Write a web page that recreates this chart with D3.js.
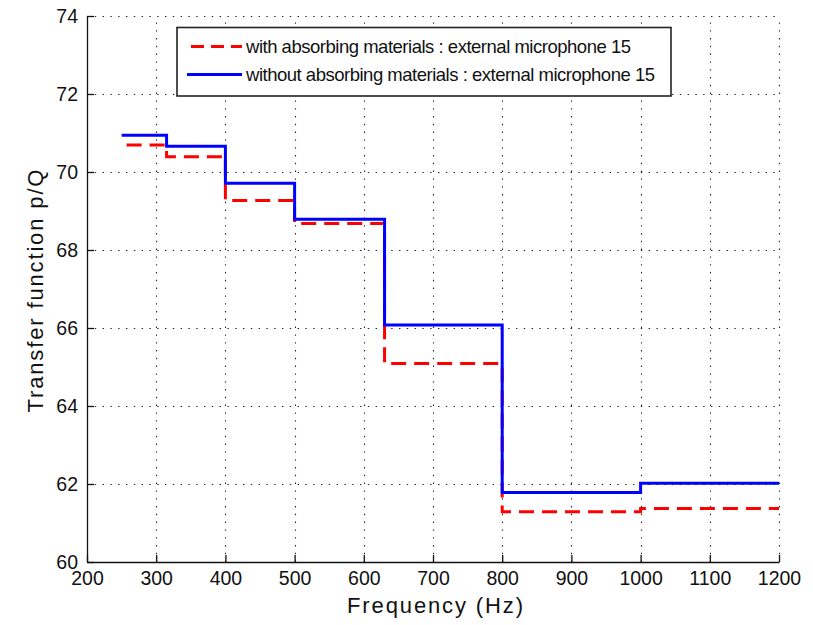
<!DOCTYPE html>
<html>
<head>
<meta charset="UTF-8">
<style>
  * { margin: 0; padding: 0; box-sizing: border-box; }
  html, body { width: 813px; height: 625px; background: #fff; overflow: hidden; }
  svg { display: block; font-family: "Liberation Sans", Arial, sans-serif; }
</style>
<script src="https://d3js.org/d3.v7.min.js"></script>
</head>
<body>
<div id="chart"></div>
<script>
// band edges (Hz) - the last value is repeated so the final step reaches 1200
var freqs = [250, 315, 400, 500, 630, 800, 1000, 1200];
var withAbsorbing = [70.69, 70.39, 69.27, 68.68, 65.09, 61.29, 61.37, 61.37];
var withoutAbsorbing = [70.94, 70.66, 69.71, 68.79, 66.08, 61.78, 62.02, 62.02];
var xTicks = [200, 300, 400, 500, 600, 700, 800, 900, 1000, 1100, 1200];
var yTicks = [60, 62, 64, 66, 68, 70, 72, 74];
var seriesNames = [
  "with absorbing materials : external microphone 15",
  "without absorbing materials : external microphone 15"
];

var W = 813, H = 625;
var x = d3.scaleLinear().domain([200, 1200]).range([87, 779]);
var y = d3.scaleLinear().domain([60, 74]).range([562, 16]);

var svg = d3.select("#chart").append("svg")
  .attr("width", W).attr("height", H);

// dotted grid
var grid = svg.append("g")
  .attr("stroke", "#222").attr("stroke-width", 1.1)
  .attr("stroke-dasharray", "1.4 6.4");
grid.selectAll(".gx").data(xTicks.slice(1)).enter().append("line")
  .attr("x1", function(d) { return Math.round(x(d)) + 0.5; })
  .attr("x2", function(d) { return Math.round(x(d)) + 0.5; })
  .attr("y1", y(60)).attr("y2", y(74));
grid.selectAll(".gy").data(yTicks.slice(1)).enter().append("line")
  .attr("y1", function(d) { return Math.round(y(d)) + 0.5; })
  .attr("y2", function(d) { return Math.round(y(d)) + 0.5; })
  .attr("x1", x(200)).attr("x2", x(1200));

// axes, ticks pointing inward
var xAxis = d3.axisBottom(x).tickValues(xTicks).tickFormat(d3.format("d"))
  .tickSizeInner(-7).tickSizeOuter(0).tickPadding(9);
var yAxis = d3.axisLeft(y).tickValues(yTicks).tickFormat(d3.format("d"))
  .tickSizeInner(-7).tickSizeOuter(0).tickPadding(9);

var gx = svg.append("g").attr("transform", "translate(0," + y(60) + ")").call(xAxis);
var gy = svg.append("g").attr("transform", "translate(" + x(200) + ",0)").call(yAxis);

[gx, gy].forEach(function(g) {
  g.selectAll("path, line").attr("stroke", "#111").attr("stroke-width", 1.3);
  g.selectAll("text")
    .attr("fill", "#111")
    .style("font-size", "19.5px")
    .style("font-family", "'Liberation Sans', Arial, sans-serif");
});

// step lines
var line = d3.line()
  .x(function(d) { return x(d[0]); })
  .y(function(d) { return y(d[1]); })
  .curve(d3.curveStepAfter);

function pairs(vals) {
  return freqs.map(function(f, i) { return [f, vals[i]]; });
}

svg.append("path")
  .attr("d", line(pairs(withAbsorbing)))
  .attr("fill", "none").attr("stroke", "#ff0000").attr("stroke-width", 3)
  .attr("stroke-dasharray", "15 8").attr("stroke-dashoffset", 18);

svg.append("path")
  .attr("d", line(pairs(withoutAbsorbing)))
  .attr("fill", "none").attr("stroke", "#0000ff").attr("stroke-width", 3);

// axis labels
svg.append("text")
  .attr("x", 435).attr("y", 613)
  .attr("text-anchor", "middle")
  .attr("textLength", 176)
  .attr("fill", "#111")
  .style("font-size", "22px")
  .text("Frequency (Hz)");

svg.append("text")
  .attr("transform", "translate(43,291) rotate(-90)")
  .attr("text-anchor", "middle")
  .attr("textLength", 243)
  .attr("fill", "#111")
  .style("font-size", "22px")
  .text("Transfer function p/Q");

// legend
var leg = svg.append("g");
leg.append("rect")
  .attr("x", 177).attr("y", 27.5).attr("width", 494).attr("height", 68.5)
  .attr("fill", "#fff").attr("stroke", "#222").attr("stroke-width", 1.6);

var legRows = [
  { name: seriesNames[0], color: "#ff0000", dash: "13 7", y: 46.5, x1: 191, len: 385 },
  { name: seriesNames[1], color: "#0000ff", dash: null, y: 74.5, x1: 187, len: 409 }
];
legRows.forEach(function(r) {
  leg.append("line")
    .attr("x1", r.x1).attr("x2", 242).attr("y1", r.y).attr("y2", r.y)
    .attr("stroke", r.color).attr("stroke-width", 3)
    .attr("stroke-dasharray", r.dash);
  leg.append("text")
    .attr("x", 246).attr("y", r.y).attr("dy", "0.36em")
    .attr("textLength", r.len)
    .attr("fill", "#111")
    .style("font-size", "18.5px")
    .text(r.name);
});
</script>
</body>
</html>
